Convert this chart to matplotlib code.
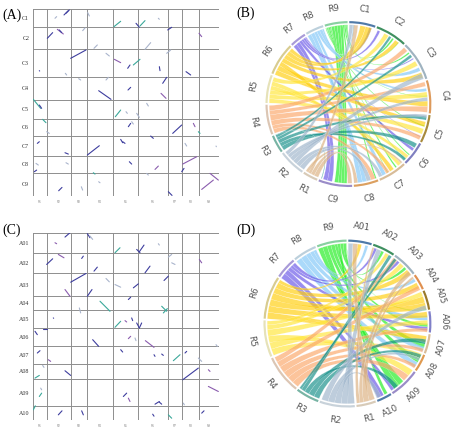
import numpy as np
import matplotlib.pyplot as plt
from matplotlib.path import Path
from matplotlib.patches import PathPatch, Wedge

# chromosome names and lengths (Mb)
R_names = ['R1', 'R2', 'R3', 'R4', 'R5', 'R6', 'R7', 'R8', 'R9']
R_len = [40, 72, 48, 80, 75, 88, 44, 49, 61]
C_names = ['C1', 'C2', 'C3', 'C4', 'C5', 'C6', 'C7', 'C8', 'C9']
C_len = [70, 85, 106, 88, 75, 65, 77, 66, 90]
A_names = ['A01', 'A02', 'A03', 'A04', 'A05', 'A06', 'A07', 'A08', 'A09', 'A10']
A_len = [48, 46, 53, 33, 40, 43, 40, 36, 63, 31]

# dot plot blocks: (R genome start, C/A genome start, R end, C/A end), global Mb
dots_RC = [
    (92, 21.9, 105, 5.2), (98, 15.5, 108, 2.6), (65, 34.8, 70, 28.4), (163, 12.9, 168, 25.8),
    (242, 67.1, 262, 46.4), (308, 54.2, 318, 69.7), (320, 64.5, 335, 43.9), (375, 34.8, 378, 38.7),
    (42, 112.2, 58, 90.3), (72, 77.4, 90, 95.5), (78, 80.0, 85, 90.3), (148, 82.6, 155, 72.2),
    (182, 150.9, 192, 138.0), (335, 154.8, 352, 129.0), (403, 80.0, 415, 69.7), (497, 92.9, 505, 105.8),
    (112, 189.6, 158, 157.4), (218, 170.3, 228, 180.6), (243, 193.5, 262, 206.4), (283, 228.3, 290, 215.4),
    (300, 215.4, 320, 193.5), (378, 221.9, 380, 237.4), (400, 170.3, 412, 157.4), (458, 241.2, 472, 254.1),
    (18, 237.4, 19, 238.7), (96, 247.7, 100, 254.1), (196, 314.8, 233, 348.3), (218, 273.5, 225, 263.2),
    (284, 312.2, 292, 301.9), (388, 286.4, 400, 263.2), (383, 325.1, 398, 344.4), (136, 268.3, 142, 273.5),
    (0, 348.3, 22, 383.1), (18, 370.2, 25, 383.1), (246, 415.4, 262, 389.6), (278, 396.0, 282, 402.5),
    (310, 402.5, 318, 418.0), (340, 363.8, 345, 374.1), (28, 425.7, 38, 438.6), (40, 473.4, 48, 479.9),
    (285, 454.1, 292, 441.2), (295, 434.7, 300, 443.8), (418, 479.9, 445, 447.6), (480, 441.2, 485, 454.1),
    (495, 473.4, 500, 479.9), (352, 490.2, 360, 499.2), (12, 518.6, 18, 512.1), (162, 563.7, 198, 527.6),
    (95, 554.7, 105, 559.9), (262, 503.1, 268, 516.0), (268, 512.1, 275, 518.6), (455, 518.6, 460, 528.9),
    (548, 528.9, 549, 531.5), (3, 628.2, 10, 621.8), (8, 596.0, 15, 602.4), (98, 593.4, 105, 598.6),
    (288, 589.5, 295, 598.6), (365, 619.2, 375, 606.3), (448, 598.6, 490, 570.2), (445, 628.2, 452, 615.3),
    (180, 632.1, 185, 637.3), (76, 701.8, 86, 688.9), (144, 686.3, 148, 699.2), (405, 705.6, 416, 719.8),
    (505, 696.6, 540, 660.5), (530, 634.7, 555, 660.5), (196, 666.9, 200, 670.8), (340, 634.7, 345, 641.1),
]
ident_RC = "bbggtbtgbpbgggbpbgpbtbgbbgbgbbpgtbtgggtgbgbptbbbbbbggbggbppbtbgbppgg"

dots_RA = [
    (95, 10.1, 110, 0.0), (65, 23.2, 70, 25.5), (162, 2.3, 170, 11.6), (170, 7.7, 178, 15.5),
    (245, 46.4, 260, 34.8), (310, 38.7, 320, 46.4), (318, 44.1, 332, 28.6), (375, 25.5, 378, 28.6),
    (40, 73.5, 58, 60.4), (75, 50.3, 92, 58.1), (145, 59.6, 150, 54.2), (182, 89.0, 192, 79.7),
    (335, 92.9, 350, 77.4), (405, 56.5, 415, 50.3), (415, 69.7, 425, 73.5), (498, 61.9, 505, 69.7),
    (112, 114.6, 158, 94.4), (95, 131.6, 110, 147.1), (162, 147.1, 176, 131.6), (218, 106.0, 228, 113.8),
    (245, 120.0, 262, 126.2), (300, 127.7, 315, 118.4), (392, 110.7, 405, 100.6), (200, 158.7, 230, 181.9),
    (285, 154.8, 292, 149.4), (385, 170.3, 400, 181.9), (390, 185.8, 402, 175.7), (138, 174.2, 142, 185.8),
    (60, 197.4, 61, 198.1), (245, 219.0, 262, 205.1), (275, 203.6, 280, 206.7), (295, 197.4, 298, 203.6),
    (310, 209.0, 318, 220.6), (318, 220.6, 325, 209.0), (5, 228.3, 12, 236.1), (28, 222.1, 40, 222.1),
    (178, 247.7, 196, 263.2), (285, 245.4, 292, 239.9), (305, 243.8, 308, 250.0), (336, 250.0, 362, 265.5),
    (548, 259.3, 552, 263.2), (12, 278.6, 20, 273.2), (45, 294.1, 52, 298.0), (262, 270.9, 268, 276.3),
    (362, 282.5, 365, 286.4), (385, 281.0, 390, 284.1), (420, 296.4, 440, 282.5), (455, 278.6, 460, 274.8),
    (495, 290.3, 505, 298.0), (5, 336.7, 18, 330.5), (28, 307.3, 32, 311.9), (95, 319.7, 112, 330.5),
    (448, 340.6, 495, 313.5), (525, 317.3, 530, 321.2), (18, 379.3, 25, 371.5), (22, 359.9, 25, 363.8),
    (270, 379.3, 280, 371.5), (285, 383.1, 290, 390.9), (365, 397.1, 378, 390.9), (378, 392.4, 385, 397.1),
    (525, 356.0, 555, 367.7), (450, 394.7, 453, 398.6), (0, 410.2, 6, 400.9), (75, 421.8, 86, 412.5),
    (145, 412.5, 150, 421.8), (405, 421.8, 415, 429.6), (505, 417.9, 512, 412.5), (358, 420.3, 362, 424.9),
]
ident_RA = "bpbgtbbgbpbbbggpbpbggbbtbttgbtpbbbbbbpgpgbpbbbtbgtgbbptgbpbbpgtbbtbb"

# chord links: (R chrom, R start, R end, other chrom, start, end)
links_RC = [
    (9, 40, 48, 9, 14, 22), (9, 32, 40, 9, 22, 30), (9, 24, 32, 9, 30, 38), (9, 16, 24, 9, 38, 48),
    (9, 48, 52, 8, 2, 6), (9, 8, 12, 7, 20, 24), (9, 12, 15, 6, 40, 43), (9, 52, 56, 2, 50, 55),
    (9, 56, 59, 3, 20, 24), (9, 3, 6, 5, 30, 33), (9, 6, 8, 6, 58, 60), (9, 59, 61, 2, 70, 72),
    (9, 0, 2, 4, 40, 42), (9, 15, 16, 7, 48, 50),
    (8, 0, 10, 8, 30, 42), (8, 10, 20, 8, 42, 55), (8, 20, 28, 7, 55, 66), (8, 28, 36, 3, 70, 80),
    (8, 36, 44, 4, 20, 28), (8, 44, 48, 1, 10, 14),
    (7, 0, 10, 9, 68, 80), (7, 10, 20, 9, 55, 68), (7, 20, 28, 6, 20, 28), (7, 28, 34, 2, 5, 12),
    (7, 34, 40, 1, 55, 62), (7, 40, 43, 3, 40, 43), (7, 43, 44, 5, 62, 64),
    (6, 0, 14, 5, 20, 34), (6, 14, 28, 4, 55, 70), (6, 28, 40, 7, 30, 42), (6, 40, 52, 3, 85, 100),
    (6, 52, 64, 2, 60, 72), (6, 64, 76, 1, 30, 45), (6, 76, 86, 1, 45, 62),
    (5, 0, 12, 5, 40, 55), (5, 12, 24, 4, 30, 45), (5, 24, 36, 3, 50, 64), (5, 36, 48, 6, 45, 55),
    (5, 48, 60, 7, 5, 15), (5, 60, 72, 2, 25, 38),
    (4, 0, 12, 8, 5, 18), (4, 12, 22, 7, 44, 54), (4, 22, 36, 5, 60, 72), (4, 36, 52, 4, 70, 86),
    (4, 52, 64, 4, 2, 14), (4, 64, 78, 3, 2, 15),
    (3, 0, 12, 6, 5, 18), (3, 12, 22, 6, 55, 64), (3, 22, 32, 5, 5, 15), (3, 32, 40, 3, 28, 36),
    (3, 40, 47, 2, 40, 47), (3, 47, 48, 9, 84, 86),
    (2, 0, 14, 8, 18, 30), (2, 14, 26, 7, 66, 76), (2, 26, 38, 3, 88, 104), (2, 38, 50, 4, 45, 55),
    (2, 50, 60, 5, 0, 8), (2, 60, 70, 1, 0, 10),
    (1, 0, 12, 8, 55, 65), (1, 12, 22, 9, 0, 12), (1, 22, 30, 1, 12, 24), (1, 30, 38, 7, 0, 5),
]

links_RA = [
    (9, 0, 10, 9, 30, 42), (9, 10, 20, 9, 42, 55), (9, 20, 28, 8, 10, 20), (9, 28, 36, 7, 20, 30),
    (9, 36, 42, 6, 25, 32), (9, 42, 48, 10, 5, 12), (9, 48, 54, 3, 30, 36), (9, 54, 60, 2, 20, 26),
    (9, 60, 61, 5, 38, 40),
    (8, 0, 12, 8, 20, 32), (8, 12, 24, 7, 28, 38), (8, 24, 34, 6, 8, 18), (8, 34, 42, 4, 5, 12),
    (8, 42, 48, 1, 36, 42),
    (7, 0, 12, 10, 14, 28), (7, 12, 22, 9, 55, 62), (7, 22, 30, 6, 32, 40), (7, 30, 36, 3, 10, 16),
    (7, 36, 43, 2, 4, 10),
    (6, 0, 14, 7, 5, 18), (6, 14, 28, 6, 0, 12), (6, 28, 42, 5, 10, 24), (6, 42, 56, 5, 24, 38),
    (6, 56, 68, 4, 15, 28), (6, 68, 80, 3, 38, 50), (6, 80, 87, 1, 20, 28),
    (5, 0, 14, 8, 0, 10), (5, 14, 28, 6, 18, 28), (5, 28, 42, 9, 0, 14), (5, 42, 56, 5, 0, 10),
    (5, 56, 66, 3, 18, 28), (5, 66, 74, 2, 30, 38),
    (4, 0, 14, 9, 14, 28), (4, 14, 28, 8, 26, 34), (4, 28, 42, 7, 32, 40), (4, 42, 56, 6, 35, 43),
    (4, 56, 68, 4, 22, 32), (4, 68, 79, 3, 0, 10),
    (3, 0, 12, 8, 2, 10), (3, 12, 24, 7, 12, 22), (3, 24, 34, 9, 45, 55), (3, 34, 42, 2, 38, 45),
    (3, 42, 47, 3, 2, 8),
    (2, 0, 14, 1, 0, 10), (2, 14, 28, 2, 10, 20), (2, 28, 42, 10, 20, 30), (2, 42, 56, 8, 10, 16),
    (2, 56, 70, 5, 30, 40),
    (1, 0, 12, 1, 10, 20), (1, 12, 24, 4, 0, 5), (1, 24, 32, 3, 42, 52), (1, 32, 39, 2, 0, 4),
]

ident_col = {'b': '#3d3d9e', 'p': '#8a5cae', 't': '#3aa89a', 'g': '#a9b4cc'}
link_col = ['#dcb282', '#9fb6cc', '#16908a', '#fca86c', '#ffe63c', '#ffcf10',
            '#6a58e8', '#82c8f8', '#22ee22']
R_ring = ['#d8cbb8', '#c8d2da', '#78b4a4', '#dcc6b4', '#e6e2b8', '#d8cc90',
          '#a89ad8', '#bcd0dc', '#88d0a0']
C_ring = ['#4f7aa8', '#3f9060', '#9fb3c0', '#dd9a5c', '#a88a3c', '#7f7fc0',
          '#d8bc98', '#dca060', '#9a8cc8']
A_ring = ['#4f7aa8', '#3f9060', '#9fb3c0', '#e09050', '#9a7a2a', '#8080c8',
          '#d8bc98', '#e09a50', '#9a8cc8', '#4f7aa8']


def dotplot(ax, ylen, ynames, segs, idents):
    xoff = np.concatenate([[0], np.cumsum(R_len)])
    yoff = np.concatenate([[0], np.cumsum(ylen)])
    for v in xoff:
        ax.axvline(v, color='#8e8e8e', lw=0.7)
    for v in yoff:
        ax.axhline(v, color='#8e8e8e', lw=0.7)
    for (x0, y0, x1, y1), k in zip(segs, idents):
        ax.plot([x0, x1], [y0, y1], color=ident_col[k], lw=0.8, solid_capstyle='round')
    ax.set_xlim(0, xoff[-1])
    ax.set_ylim(yoff[-1], 0)
    ax.set_xticks((xoff[:-1] + xoff[1:]) / 2)
    ax.set_xticklabels(R_names, fontsize=2.2, color='#888888')
    ax.set_yticks((yoff[:-1] + yoff[1:]) / 2)
    ax.set_yticklabels(ynames, fontsize=4.3, family='Liberation Serif', color='#333333')
    ax.tick_params(length=0, pad=3)
    for s in ax.spines.values():
        s.set_visible(False)


def chord(ax, names, lens, rings, links, gap=1.2):
    all_names = names + R_names
    all_lens = lens + R_len
    all_rings = rings + R_ring
    n = len(all_lens)
    scale = (360 - n * gap) / sum(all_lens)
    start = {}
    a = 90 - gap / 2
    for nm, L, col in zip(all_names, all_lens, all_rings):
        start[nm] = a
        end = a - L * scale
        ax.add_patch(Wedge((0, 0), 1.0, end, a, width=0.026, color=col, lw=0))
        mid = (a + end) / 2
        th = (mid + 180) % 360 - 180
        rot = th - 90 if th >= 0 else th + 90
        ax.text(1.16 * np.cos(np.deg2rad(mid)), 1.16 * np.sin(np.deg2rad(mid)), nm,
                rotation=rot, ha='center', va='center', fontsize=6.3, color='#555555')
        a = end - gap

    def ang(nm, pos):
        return np.deg2rad(start[nm] - pos * scale)

    def pt(t, rr):
        return (rr * np.cos(t), rr * np.sin(t))

    r, k = 0.955, 0.5
    for ri, rs, re, oi, os_, oe in links:
        a1, a2 = ang(R_names[ri - 1], rs), ang(R_names[ri - 1], re)
        b1, b2 = ang(names[oi - 1], os_), ang(names[oi - 1], oe)
        t1 = np.linspace(a1, a2, 16)
        t2 = np.linspace(b1, b2, 16)
        verts = [pt(t, r) for t in t1]
        codes = [Path.MOVETO] + [Path.LINETO] * 15
        verts += [pt(a2, k), pt(b1, k), pt(b1, r)]
        codes += [Path.CURVE4] * 3
        verts += [pt(t, r) for t in t2[1:]]
        codes += [Path.LINETO] * 15
        verts += [pt(b2, k), pt(a1, k), pt(a1, r), (0, 0)]
        codes += [Path.CURVE4] * 3 + [Path.CLOSEPOLY]
        ax.add_patch(PathPatch(Path(verts, codes), facecolor=link_col[ri - 1], alpha=0.68,
                               edgecolor='white', lw=0.15))
    ax.set_xlim(-1.3, 1.3)
    ax.set_ylim(-1.3, 1.3)
    ax.set_aspect('equal')
    ax.axis('off')


fig = plt.figure(figsize=(4.68, 4.42), dpi=100)

axA = fig.add_axes([0.0712, 0.5566, 0.3968, 0.4224])
dotplot(axA, C_len, C_names, dots_RC, ident_RC)
axC = fig.add_axes([0.0712, 0.0505, 0.3968, 0.4230])
dotplot(axC, A_len, A_names, dots_RA, ident_RA)

axB = fig.add_axes([0.514, 0.5206, 0.461, 0.488])
chord(axB, C_names, C_len, C_ring, links_RC)
axD = fig.add_axes([0.509, 0.021, 0.4667, 0.494])
chord(axD, A_names, A_len, A_ring, links_RA)

for x, y, s in [(0.006, 0.965, '(A)'), (0.505, 0.97, '(B)'),
                (0.006, 0.48, '(C)'), (0.505, 0.478, '(D)')]:
    fig.text(x, y, s, fontsize=10, family='Liberation Serif', va='center')

fig.savefig('out.png', dpi=100)
